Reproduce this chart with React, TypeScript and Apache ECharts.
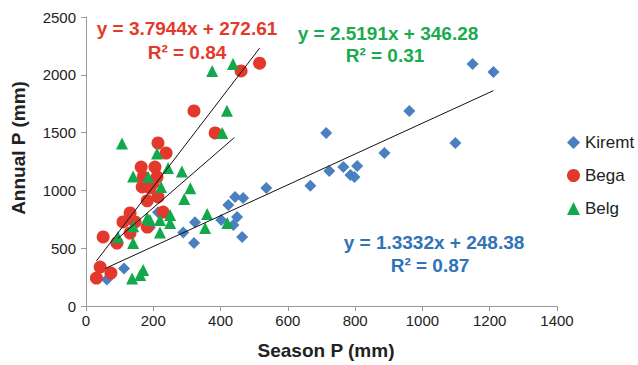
import React, { useEffect, useRef } from "react";
import * as echarts from "echarts";

// Season P (mm), Annual P (mm)
const kiremt: number[][] = [
  [62, 230], [113, 325], [214, 810], [190, 680], [289, 635], [321, 545], [324, 725],
  [402, 744], [423, 874], [438, 700], [449, 770], [464, 597], [443, 943], [467, 934],
  [536, 1021], [667, 1040], [714, 1497], [723, 1168], [765, 1202], [786, 1133],
  [798, 1116], [806, 1211], [887, 1323], [961, 1687], [1098, 1410], [1149, 2093], [1211, 2024],
];
const bega: number[][] = [
  [31, 242], [42, 337], [74, 285], [51, 597], [92, 545], [131, 631], [110, 727],
  [146, 727], [182, 683], [131, 805], [229, 813], [182, 910], [214, 943], [190, 1021],
  [167, 1030], [199, 1064], [170, 1116], [211, 1116], [164, 1202], [205, 1202],
  [238, 1323], [214, 1410], [321, 1687], [384, 1497], [461, 2033], [516, 2100],
];
const belg: number[][] = [
  [107, 1405], [211, 1320], [244, 1194], [285, 1164], [140, 1120], [185, 1116],
  [223, 1030], [310, 1018], [292, 925], [375, 2033], [437, 2093], [419, 1690],
  [405, 1497], [360, 796], [354, 675], [420, 718], [250, 787], [220, 744], [190, 744],
  [182, 761], [140, 690], [250, 718], [220, 635], [95, 595], [140, 545], [170, 311],
  [137, 238], [161, 268],
];

const seriesNames = ["Kiremt", "Bega", "Belg"];
// trend line fits: slope, intercept, R², x range start, x range end
const kiremtFit = [1.3332, 248.38, 0.87, 57, 1211];
const begaFit = [3.7944, 272.61, 0.84, 31, 516];
const belgFit = [2.5191, 346.28, 0.31, 94, 441];

const COLORS = { kiremt: "#4a7fc1", bega: "#e3392c", belg: "#12a84c" };
const TEXT_COLORS = { kiremt: "#2f73b8", bega: "#e23a2d", belg: "#1aab4f" };
const FONT = '"Liberation Sans", Arial, Helvetica, sans-serif';

function trend(fit: number[]) {
  const [m, b, , x0, x1] = fit;
  return [
    [x0, m * x0 + b],
    [x1, m * x1 + b],
  ];
}
function eqText(fit: number[]) {
  return `y = ${fit[0]}x + ${fit[1].toFixed(2)}`;
}
function r2Text(fit: number[]) {
  return `R² = ${fit[2].toFixed(2)}`;
}

export default function App() {
  const ref = useRef<HTMLDivElement>(null);
  useEffect(() => {
    if (!ref.current) return;
    const chart = echarts.init(ref.current, undefined, { renderer: "svg" });
    const label = (x: number, y: number, text: string, color: string) => ({
      type: "text",
      x,
      y,
      silent: true,
      style: {
        text,
        fill: color,
        fontSize: 19,
        fontWeight: "bold",
        fontFamily: FONT,
        align: "center",
        verticalAlign: "middle",
      },
    });
    const trendSeries = (fit: number[]) => ({
      type: "line",
      data: trend(fit),
      symbol: "none",
      silent: true,
      z: 5,
      lineStyle: { color: "#111", width: 1 },
    });
    chart.setOption({
      animation: false,
      grid: { left: 86, top: 17, width: 471, height: 289 },
      xAxis: {
        type: "value",
        min: 0,
        max: 1400,
        interval: 200,
        splitLine: { show: false },
        axisLine: { lineStyle: { color: "#9a9a9a" } },
        axisTick: { length: 5, lineStyle: { color: "#9a9a9a" } },
        axisLabel: {
          fontSize: 15,
          color: "#222",
          margin: 7,
          fontFamily: FONT,
          formatter: (v: number) => String(v),
        },
      },
      yAxis: {
        type: "value",
        min: 0,
        max: 2500,
        interval: 500,
        splitLine: { show: false },
        axisLine: { show: true, lineStyle: { color: "#9a9a9a" } },
        axisTick: { show: true, length: 5, lineStyle: { color: "#9a9a9a" } },
        axisLabel: {
          fontSize: 15,
          color: "#222",
          margin: 10,
          fontFamily: FONT,
          formatter: (v: number) => String(v),
        },
      },
      legend: {
        orient: "vertical",
        left: 562,
        top: 129,
        itemWidth: 13,
        itemHeight: 13,
        itemGap: 16,
        textStyle: { fontSize: 17, color: "#222", fontFamily: FONT },
        data: [
          { name: seriesNames[0], icon: "diamond" },
          { name: seriesNames[1], icon: "circle" },
          { name: seriesNames[2], icon: "triangle" },
        ],
      },
      series: [
        {
          name: seriesNames[0],
          type: "scatter",
          symbol: "diamond",
          symbolSize: 12,
          itemStyle: { color: COLORS.kiremt, opacity: 1 },
          data: kiremt,
        },
        {
          name: seriesNames[1],
          type: "scatter",
          symbol: "circle",
          symbolSize: 13,
          itemStyle: { color: COLORS.bega, opacity: 1 },
          data: bega,
        },
        {
          name: seriesNames[2],
          type: "scatter",
          symbol: "triangle",
          symbolSize: 12,
          itemStyle: { color: COLORS.belg, opacity: 1 },
          data: belg,
        },
        trendSeries(kiremtFit),
        trendSeries(begaFit),
        trendSeries(belgFit),
      ],
      graphic: [
        label(187, 28, eqText(begaFit), TEXT_COLORS.bega),
        label(187, 52, r2Text(begaFit), TEXT_COLORS.bega),
        label(388, 33, eqText(belgFit), TEXT_COLORS.belg),
        label(385, 55, r2Text(belgFit), TEXT_COLORS.belg),
        label(434, 242, eqText(kiremtFit), TEXT_COLORS.kiremt),
        label(430, 265, r2Text(kiremtFit), TEXT_COLORS.kiremt),
        {
          type: "text",
          x: 326,
          y: 350,
          silent: true,
          style: {
            text: "Season P (mm)",
            fill: "#222",
            fontSize: 19,
            fontWeight: "bold",
            fontFamily: FONT,
            align: "center",
            verticalAlign: "middle",
          },
        },
        {
          type: "text",
          x: 18,
          y: 148,
          rotation: Math.PI / 2,
          silent: true,
          style: {
            text: "Annual P (mm)",
            fill: "#222",
            fontSize: 19,
            fontWeight: "bold",
            fontFamily: FONT,
            align: "center",
            verticalAlign: "middle",
          },
        },
      ],
    });
    return () => chart.dispose();
  }, []);
  return (
    <div
      ref={ref}
      style={{ position: "absolute", left: 0, top: 0, width: 638, height: 365 }}
    />
  );
}
